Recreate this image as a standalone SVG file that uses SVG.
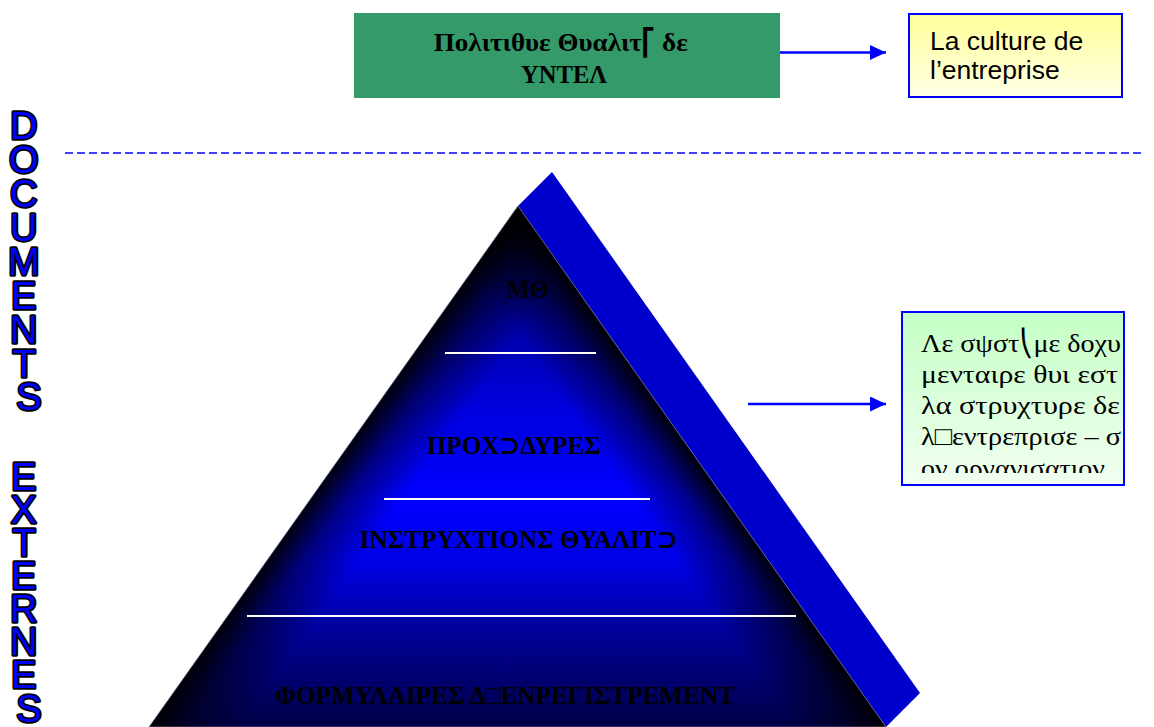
<svg xmlns="http://www.w3.org/2000/svg" width="1154" height="727" viewBox="0 0 1154 727">
  <style>
    .greek-bold { font-family: "Liberation Serif", "DejaVu Serif", serif; font-weight: bold; fill: #000; }
    .greek { font-family: "Liberation Serif", "DejaVu Serif", serif; fill: #000; }
    .sans { font-family: "Liberation Sans", Arial, sans-serif; fill: #000; }
    .vert { font-family: "Liberation Sans", Arial, sans-serif; font-size: 38px; fill: #0000ff; stroke: #000; stroke-width: 3.4; stroke-linejoin: round; text-anchor: middle; paint-order: stroke; }
    .tier { stroke: #ffffff; stroke-width: 2.2; }
    .link { stroke: #0000ff; stroke-width: 2.5; fill: none; marker-end: url(#arrow); }
  </style>
  <defs>
    <marker id="arrow" markerUnits="userSpaceOnUse" markerWidth="16" markerHeight="16" refX="16" refY="7.5" orient="auto">
      <path d="M0,0 L16,7.5 L0,15 z" fill="#0000ff"/>
    </marker>
    <linearGradient id="yellowFill" x1="0" y1="0" x2="0" y2="1">
      <stop offset="0" stop-color="#ffff99"/>
      <stop offset="1" stop-color="#ffffe6"/>
    </linearGradient>
    <linearGradient id="greenFill" x1="0" y1="0" x2="0" y2="1">
      <stop offset="0" stop-color="#c4ffc4"/>
      <stop offset="1" stop-color="#f2fff2"/>
    </linearGradient>
    <!-- front face: bright band in the middle, darker toward apex and base -->
    <linearGradient id="pyramidBase" gradientUnits="userSpaceOnUse" x1="0" y1="206" x2="0" y2="727">
      <stop offset="0" stop-color="#000020"/>
      <stop offset="0.1" stop-color="#000070"/>
      <stop offset="0.2" stop-color="#0000a0"/>
      <stop offset="0.4" stop-color="#0000e0"/>
      <stop offset="0.56" stop-color="#0000ff"/>
      <stop offset="0.68" stop-color="#0000e8"/>
      <stop offset="0.82" stop-color="#000098"/>
      <stop offset="1" stop-color="#000045"/>
    </linearGradient>
    <!-- shading along the two slopes -->
    <linearGradient id="shadeLeft" gradientUnits="userSpaceOnUse" x1="333.5" y1="466.5" x2="394.7" y2="509.9">
      <stop offset="0" stop-color="#000000" stop-opacity="0.95"/>
      <stop offset="0.4" stop-color="#000000" stop-opacity="0.45"/>
      <stop offset="1" stop-color="#000000" stop-opacity="0"/>
    </linearGradient>
    <linearGradient id="shadeRight" gradientUnits="userSpaceOnUse" x1="702" y1="466.5" x2="640.7" y2="509.8">
      <stop offset="0" stop-color="#000000" stop-opacity="0.95"/>
      <stop offset="0.4" stop-color="#000000" stop-opacity="0.45"/>
      <stop offset="1" stop-color="#000000" stop-opacity="0"/>
    </linearGradient>
    <clipPath id="systemClip">
      <rect x="903" y="313" width="220" height="160"/>
    </clipPath>
  </defs>

  <!-- vertical side label -->
  <g id="label-documents-externes">
    <text class="vert">
      <tspan x="29" y="139">D</tspan>
      <tspan x="29" y="173">O</tspan>
      <tspan x="29" y="207">C</tspan>
      <tspan x="29" y="241">U</tspan>
      <tspan x="29" y="275">M</tspan>
      <tspan x="29" y="309">E</tspan>
      <tspan x="29" y="343">N</tspan>
      <tspan x="29" y="377">T</tspan>
      <tspan x="29" y="410">S</tspan>
    </text>
    <text class="vert">
      <tspan x="29" y="490">E</tspan>
      <tspan x="29" y="523">X</tspan>
      <tspan x="29" y="556">T</tspan>
      <tspan x="29" y="589">E</tspan>
      <tspan x="29" y="622">R</tspan>
      <tspan x="29" y="655">N</tspan>
      <tspan x="29" y="688">E</tspan>
      <tspan x="29" y="722">S</tspan>
    </text>
  </g>

  <!-- separator -->
  <line id="separator" x1="65" y1="153" x2="1145" y2="153" stroke="#0000ff" stroke-width="1.5" stroke-dasharray="8 4"/>

  <!-- quality policy box -->
  <g id="node-policy">
    <rect x="354" y="13" width="426" height="85" fill="#359a6a"/>
    <text class="greek-bold" font-size="26" text-anchor="middle">
      <tspan x="564" y="51" textLength="254" lengthAdjust="spacingAndGlyphs">Πολιτιθυε Θυαλιτ⎡ δε</tspan>
      <tspan x="564" y="83" textLength="86" lengthAdjust="spacingAndGlyphs">ΥΝΤΕΛ</tspan>
    </text>
  </g>

  <!-- company culture box -->
  <g id="node-culture">
    <rect x="909" y="14" width="213" height="83" fill="url(#yellowFill)" stroke="#0000ff" stroke-width="2"/>
    <text class="sans" font-size="26.5">
      <tspan x="930" y="50">La culture de</tspan>
      <tspan x="930" y="79">l’entreprise</tspan>
    </text>
  </g>

  <!-- document pyramid -->
  <g id="node-pyramid">
    <polygon points="518,206 552,172 920,693 886,727" fill="#0000cc"/>
    <polygon points="518,206 886,727 149,727" fill="url(#pyramidBase)"/>
    <polygon points="518,206 886,727 149,727" fill="url(#shadeLeft)"/>
    <polygon points="518,206 886,727 149,727" fill="url(#shadeRight)" stroke="#8080a0" stroke-width="0.7"/>
    <line class="tier" x1="445" y1="353" x2="596" y2="353"/>
    <line class="tier" x1="384" y1="499" x2="650" y2="499"/>
    <line class="tier" x1="247" y1="616" x2="796" y2="616"/>
    <text class="greek-bold" font-size="26" text-anchor="middle">
      <tspan x="531" y="298" textLength="43" lengthAdjust="spacingAndGlyphs">ΜΘ</tspan>
      <tspan x="517" y="454" textLength="174" lengthAdjust="spacingAndGlyphs">ΠΡΟΧ⊃ΔΥΡΕΣ</tspan>
      <tspan x="522" y="548" textLength="318" lengthAdjust="spacingAndGlyphs">ΙΝΣΤΡΥΧΤΙΟΝΣ ΘΥΑΛΙΤ⊃</tspan>
      <tspan x="505" y="704" textLength="460" lengthAdjust="spacingAndGlyphs">ΦΟΡΜΥΛΑΙΡΕΣ Δ□ΕΝΡΕΓΙΣΤΡΕΜΕΝΤ</tspan>
    </text>
  </g>

  <!-- documentary system box -->
  <g id="node-system">
    <rect x="902" y="312" width="222" height="173" fill="url(#greenFill)" stroke="#0000ff" stroke-width="2"/>
    <text class="greek" font-size="26" clip-path="url(#systemClip)">
      <tspan x="921" y="352" textLength="200" lengthAdjust="spacingAndGlyphs">Λε σψστ⎝με δοχυ</tspan>
      <tspan x="921" y="383" textLength="197" lengthAdjust="spacingAndGlyphs">μενταιρε θυι εστ</tspan>
      <tspan x="921" y="414" textLength="199" lengthAdjust="spacingAndGlyphs">λα στρυχτυρε δε</tspan>
      <tspan x="921" y="445" textLength="200" lengthAdjust="spacingAndGlyphs">λ□εντρεπρισε – σ</tspan>
      <tspan x="921" y="477" textLength="184" lengthAdjust="spacingAndGlyphs">ον οργανισατιον</tspan>
    </text>
  </g>

  <!-- connectors -->
  <g id="connectors">
    <line class="link" x1="780" y1="52.5" x2="886" y2="52.5"/>
    <line class="link" x1="748" y1="404" x2="886" y2="404"/>
  </g>
</svg>
